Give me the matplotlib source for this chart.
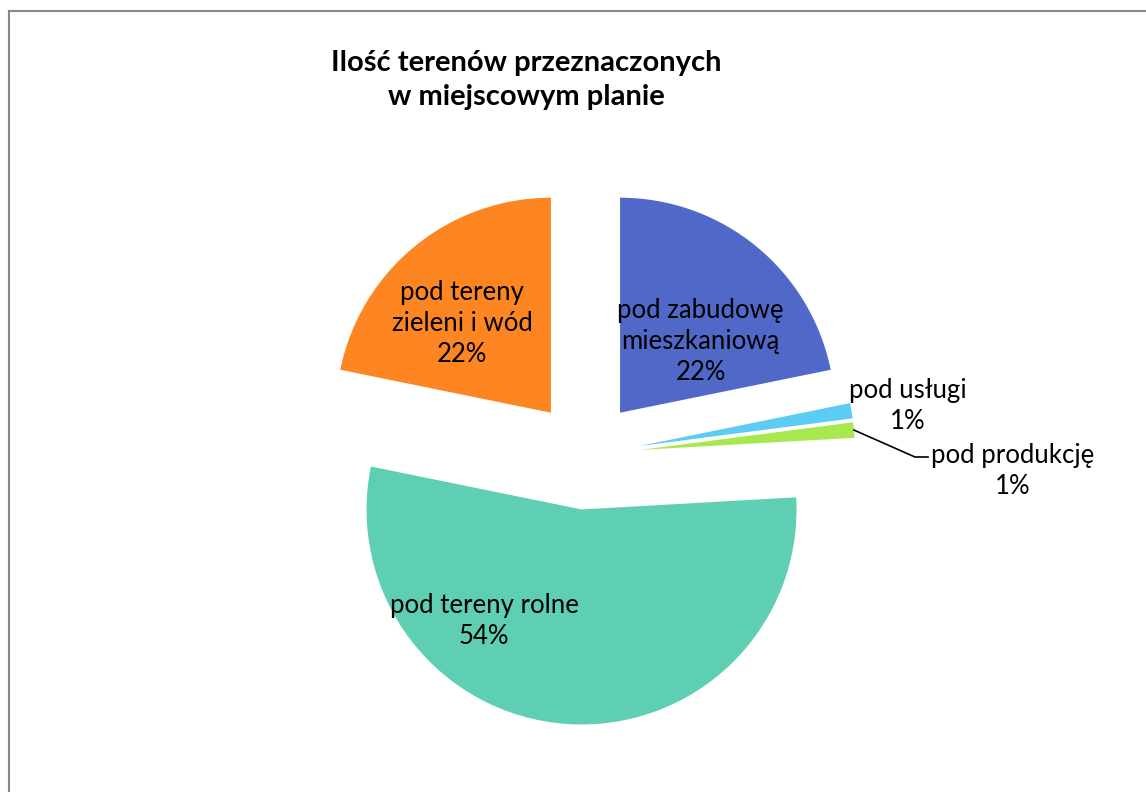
import matplotlib
matplotlib.use("Agg")
import matplotlib.pyplot as plt
import numpy as np

plt.rcParams['font.family'] = ['Lato', 'DejaVu Sans']

title = "Ilość terenów przeznaczonych\nw miejscowym planie"
categories = ["pod zabudowę\nmieszkaniową", "pod usługi", "pod produkcję",
              "pod tereny rolne", "pod tereny\nzieleni i wód"]
values = [21.8, 1.15, 1.15, 54.1, 21.8]
pct_labels = ["22%", "1%", "1%", "54%", "22%"]
colors = ["#5068C8", "#5CCCF4", "#A6E84E", "#5ECFB3", "#FD8622"]

W, H = 1146, 792
cx, cy, R = 585.5, 455.0, 215.0

fig = plt.figure(figsize=(W / 100, H / 100), dpi=100)
ax = fig.add_axes([0, 0, 1, 1])
wedges, _ = ax.pie(values, colors=colors, startangle=90, counterclock=False,
                   explode=[0.254] * len(values), radius=1.0,
                   wedgeprops=dict(linewidth=0))
ax.set_xlim(-cx / R, (W - cx) / R)
ax.set_ylim(-(H - cy) / R, cy / R)
ax.set_aspect('auto')
ax.axis('off')

# label placement relative to each exploded wedge's apex: (radius, angle tweak)
label_r = [0.50, 1.263, 1.735, 0.69, 0.585]
label_dtheta = [-9.2, -1.0, -8.5, -37.0, 5.7]
fs = 18.5
for w, cat, pct, r, dt in zip(wedges, categories, pct_labels, label_r, label_dtheta):
    th = np.deg2rad((w.theta1 + w.theta2) / 2 + dt)
    c = w.center
    x, y = c[0] + r * np.cos(th), c[1] + r * np.sin(th)
    ax.text(x, y, f"{cat}\n{pct}", ha='center', va='center', fontsize=fs,
            color='black', linespacing=1.3)

# leader line for "pod produkcję"
wp = wedges[2]
thp = np.deg2rad((wp.theta1 + wp.theta2) / 2)
c = wp.center
p0 = (c[0] + 1.0 * np.cos(thp), c[1] + 1.0 * np.sin(thp))
p1 = ((915 - cx) / R, (cy - 457) / R)
p2 = ((928 - cx) / R, (cy - 457) / R)
ax.plot([p0[0], p1[0], p2[0]], [p0[1], p1[1], p2[1]], color='black', lw=1.2)

fig.text(526.5 / W, 1 - 80 / H, title, ha='center', va='center', fontsize=21,
         fontweight='bold', linespacing=1.4)

# chart frame (left and top edges visible)
fig.add_artist(plt.Line2D([9 / W, 9 / W], [0, 1 - 11 / H], transform=fig.transFigure,
                          color='#888888', lw=1.5))
fig.add_artist(plt.Line2D([9 / W, 1], [1 - 11 / H, 1 - 11 / H], transform=fig.transFigure,
                          color='#888888', lw=1.5))

fig.savefig("out.png", dpi=100)
